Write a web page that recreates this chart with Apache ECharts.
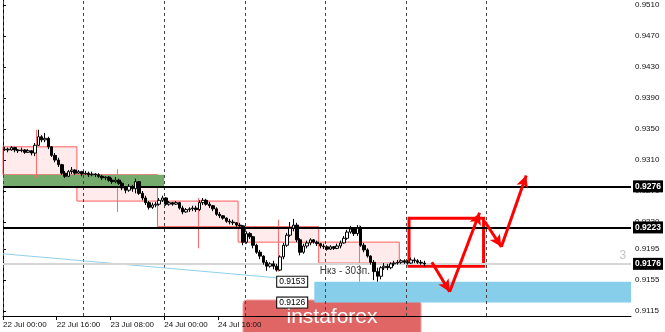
<!DOCTYPE html>
<html><head><meta charset="utf-8">
<script src="https://cdn.jsdelivr.net/npm/echarts@6/dist/echarts.min.js"></script>
<style>html,body{margin:0;padding:0;background:#fff}#c{width:665px;height:332px}</style>
</head><body><div id="c"></div>
<script>
// hourly candles starting 22 Jul 00:00 : [open, close, low, high]
const candles = [
[0.9323,0.9324,0.9322,0.9327],[0.9324,0.9323,0.9320,0.9326],[0.9323,0.9326,0.9322,0.9328],[0.9326,0.9323,0.9320,0.9327],
[0.9323,0.9322,0.9319,0.9324],[0.9322,0.9323,0.9320,0.9326],[0.9323,0.9320,0.9318,0.9324],[0.9320,0.9322,0.9319,0.9324],
[0.9322,0.9319,0.9316,0.9323],[0.9319,0.9329,0.9315,0.9332],[0.9329,0.9340,0.9328,0.9349],[0.9340,0.9336,0.9333,0.9342],
[0.9336,0.9338,0.9333,0.9345],[0.9338,0.9327,0.9324,0.9340],[0.9327,0.9316,0.9314,0.9328],[0.9316,0.9310,0.9307,0.9319],
[0.9310,0.9304,0.9301,0.9313],[0.9304,0.9293,0.9291,0.9305],[0.9293,0.9289,0.9287,0.9296],[0.9289,0.9295,0.9288,0.9297],
[0.9295,0.9297,0.9292,0.9301],[0.9297,0.9293,0.9291,0.9298],[0.9293,0.9295,0.9292,0.9297],[0.9295,0.9292,0.9289,0.9296],
[0.9292,0.9293,0.9291,0.9296],[0.9293,0.9291,0.9288,0.9295],[0.9291,0.9292,0.9289,0.9295],[0.9292,0.9291,0.9288,0.9293],
[0.9291,0.9289,0.9287,0.9293],[0.9289,0.9287,0.9284,0.9291],[0.9287,0.9288,0.9284,0.9289],[0.9288,0.9284,0.9282,0.9289],
[0.9284,0.9282,0.9279,0.9287],[0.9282,0.9284,0.9280,0.9288],[0.9284,0.9280,0.9278,0.9286],[0.9280,0.9274,0.9271,0.9282],
[0.9274,0.9271,0.9267,0.9276],[0.9271,0.9276,0.9269,0.9279],[0.9276,0.9273,0.9269,0.9278],[0.9273,0.9282,0.9267,0.9286],
[0.9282,0.9267,0.9265,0.9283],[0.9267,0.9261,0.9258,0.9270],[0.9261,0.9255,0.9252,0.9264],[0.9255,0.9249,0.9246,0.9257],
[0.9249,0.9252,0.9247,0.9255],[0.9252,0.9253,0.9249,0.9256],[0.9253,0.9258,0.9251,0.9261],[0.9258,0.9261,0.9256,0.9264],
[0.9261,0.9253,0.9251,0.9262],[0.9253,0.9255,0.9251,0.9257],[0.9255,0.9253,0.9251,0.9256],[0.9253,0.9255,0.9252,0.9257],
[0.9255,0.9248,0.9246,0.9256],[0.9248,0.9243,0.9240,0.9251],[0.9243,0.9246,0.9242,0.9248],[0.9246,0.9247,0.9243,0.9249],
[0.9247,0.9248,0.9244,0.9251],[0.9248,0.9246,0.9243,0.9251],[0.9246,0.9255,0.9244,0.9258],[0.9255,0.9258,0.9252,0.9261],
[0.9258,0.9253,0.9251,0.9260],[0.9253,0.9251,0.9248,0.9256],[0.9251,0.9247,0.9244,0.9252],[0.9247,0.9240,0.9238,0.9249],
[0.9240,0.9238,0.9235,0.9243],[0.9238,0.9235,0.9233,0.9239],[0.9235,0.9231,0.9229,0.9236],[0.9231,0.9230,0.9227,0.9234],
[0.9230,0.9229,0.9226,0.9233],[0.9229,0.9226,0.9224,0.9230],[0.9226,0.9225,0.9222,0.9229],[0.9225,0.9204,0.9200,0.9226],
[0.9204,0.9215,0.9202,0.9218],[0.9215,0.9211,0.9208,0.9217],[0.9211,0.9200,0.9196,0.9212],[0.9200,0.9191,0.9189,0.9202],
[0.9191,0.9186,0.9182,0.9194],[0.9186,0.9178,0.9175,0.9187],[0.9178,0.9173,0.9167,0.9181],[0.9173,0.9176,0.9171,0.9178],
[0.9176,0.9173,0.9169,0.9180],[0.9173,0.9168,0.9166,0.9176],[0.9168,0.9185,0.9167,0.9187],[0.9185,0.9200,0.9182,0.9203],
[0.9200,0.9213,0.9198,0.9216],[0.9213,0.9222,0.9211,0.9230],[0.9222,0.9226,0.9218,0.9234],[0.9226,0.9207,0.9204,0.9229],
[0.9207,0.9191,0.9187,0.9209],[0.9191,0.9199,0.9189,0.9202],[0.9199,0.9203,0.9196,0.9206],[0.9203,0.9207,0.9200,0.9209],
[0.9207,0.9204,0.9202,0.9208],[0.9204,0.9202,0.9199,0.9206],[0.9202,0.9199,0.9196,0.9203],[0.9199,0.9198,0.9195,0.9202],
[0.9198,0.9195,0.9193,0.9200],[0.9195,0.9198,0.9194,0.9200],[0.9198,0.9196,0.9194,0.9199],[0.9196,0.9199,0.9195,0.9202],
[0.9199,0.9203,0.9196,0.9206],[0.9203,0.9209,0.9202,0.9212],[0.9209,0.9217,0.9207,0.9220],[0.9217,0.9221,0.9215,0.9225],
[0.9221,0.9215,0.9212,0.9222],[0.9215,0.9222,0.9212,0.9226],[0.9222,0.9200,0.9198,0.9225],[0.9200,0.9194,0.9191,0.9203],
[0.9194,0.9186,0.9184,0.9196],[0.9186,0.9178,0.9175,0.9187],[0.9178,0.9166,0.9155,0.9181],[0.9166,0.9160,0.9153,0.9171],
[0.9160,0.9171,0.9156,0.9173],[0.9171,0.9173,0.9168,0.9177],[0.9173,0.9171,0.9168,0.9176],[0.9171,0.9176,0.9169,0.9178],
[0.9176,0.9177,0.9173,0.9180],[0.9177,0.9178,0.9175,0.9181],[0.9178,0.9180,0.9176,0.9182],[0.9180,0.9178,0.9176,0.9182],
[0.9178,0.9177,0.9175,0.9181],[0.9177,0.9181,0.9176,0.9184],[0.9181,0.9180,0.9177,0.9184],[0.9180,0.9178,0.9176,0.9182],
[0.9178,0.9177,0.9175,0.9181],[0.9177,0.9176,0.9173,0.9180]
];
const timeLabels = ['22 Jul 00:00','22 Jul 16:00','23 Jul 08:00','24 Jul 00:00','24 Jul 16:00'];
const timeLabelHours = [0,16,32,48,64];
const daySeparatorHours = [0,24,48,72,96,120,144];
const priceTicks = [0.9115,0.9155,0.9195,0.9230,0.9270,0.9310,0.9350,0.9390,0.9430,0.9470,0.9510];
// daily boxes: [startHour, endHour, open, close]
const dayBoxes = [[0,22,0.9327,0.9291],[22,46,0.9291,0.9257],[46,70,0.9257,0.9224],[70,94,0.9224,0.9204],[94,118,0.9204,0.9177]];
// daily wicks: [hour, high, low]
const dayWicks = [[10,0.9349,0.9287],[34,0.9298,0.9243],[58,0.9261,0.9196],[82,0.9233,0.9166],[106,0.9226,0.9153]];
const levels = [0.9276, 0.9223];
const currentPrice = 0.9176;
const greenZone = [0, 48, 0.9291, 0.9276];
const blueZone = [92.7, 187, 0.9153, 0.9126];
const blueZoneLabels = [0.9153, 0.9126];
const targetBox = [120.9, 143.1, 0.9235, 0.9173];
const arrowPath = [[[127.7,0.9178],[133.0,0.9140]],[[133.0,0.9140],[141.9,0.9242]],[[143.4,0.9231],[148.4,0.9198]],[[148.4,0.9198],[155.8,0.9290]]];
const trendLine = [[0,0.9189],[81.5,0.9158]];
const noteText = 'Нкз - 303п.';
const notePos = [94.2, 0.9166];

const FONT = '"Liberation Sans", Arial, sans-serif';
const chart = echarts.init(document.getElementById('c'), null, {renderer:'canvas'});
const empty = (z, extra) => Object.assign({type:'line', data:[], z:z, silent:true, symbol:'none'}, extra);
const blackBox = (txt) => ({show:true, position:'end', distance:2, formatter:txt, color:'#fff', backgroundColor:'#000',
  fontSize:8.5, fontWeight:'bold', fontFamily:FONT, padding:[2,2,1,2]});

chart.setOption({
  animation:false,
  grid:{left:0, right:34, top:0, bottom:16, containLabel:false},
  xAxis:{type:'value', min:0, max:187, position:'bottom',
    axisLine:{lineStyle:{color:'#000', width:1}},
    axisTick:{show:true, customValues:timeLabelHours, length:4, lineStyle:{color:'#000'}},
    axisLabel:{customValues:timeLabelHours, formatter:v=>timeLabels[timeLabelHours.indexOf(v)] || '', align:'left',
      fontSize:8, color:'#111', fontFamily:FONT, margin:5},
    splitLine:{show:false}},
  yAxis:{type:'value', position:'right', min:0.91087, max:0.95165, scale:true,
    axisLine:{show:true, lineStyle:{color:'#000', width:1}},
    axisTick:{show:true, customValues:priceTicks, length:3, lineStyle:{color:'#000'}},
    axisLabel:{customValues:priceTicks, formatter:v=>v.toFixed(4), fontSize:8, color:'#111', fontFamily:FONT, margin:4},
    splitLine:{show:false}},
  graphic:[{type:'group', z:100, children:[
    {type:'rect', shape:{x:243, y:300, width:178, height:40, r:4}, style:{fill:'#e06666', stroke:'#f1a0a0', lineWidth:1}},
    {type:'text', x:332, y:317, style:{text:'instaforex', fill:'#fff', font:'21px ' + FONT, align:'center', verticalAlign:'middle'}}
  ]}],
  series:[
    empty(1, {markLine:{silent:true, precision:4, symbol:['none','none'], label:{show:false},
      lineStyle:{color:'#444', width:1, type:[3,3]},
      data:daySeparatorHours.map(h=>({xAxis:h}))}}),
    empty(2, {markArea:{silent:true,
      itemStyle:{color:'rgba(255,0,0,0.08)', borderColor:'#ff5c5c', borderWidth:1},
      data:dayBoxes.map(b=>[{coord:[b[0], b[2]]},{coord:[b[1], b[3]]}])},
      markLine:{silent:true, precision:4, symbol:['none','none'], label:{show:false}, lineStyle:{color:'#ff6b6b', width:1, type:'solid'},
      data:dayWicks.map(w=>[{coord:[w[0], w[1]]},{coord:[w[0], w[2]]}])}}),
    empty(3, {markArea:{silent:true, itemStyle:{color:'#76ab6e'},
      data:[[{coord:[greenZone[0], greenZone[2]]},{coord:[greenZone[1], greenZone[3]]}]]}}),
    empty(3, {markArea:{silent:true, itemStyle:{color:'#87ceeb'},
      data:[[{coord:[blueZone[0], blueZone[2]]},{coord:[blueZone[1], blueZone[3]]}]]},
      markLine:{silent:true, precision:4, symbol:['none','none'], label:{show:false}, lineStyle:{color:'#8fd0ea', width:1, type:'solid'},
      data:[[{coord:trendLine[0]},{coord:trendLine[1]}]]},
      markPoint:{silent:true, symbol:'circle', symbolSize:1, itemStyle:{color:'rgba(0,0,0,0)'},
      data:blueZoneLabels.map(v=>({coord:[81.5, v], label:{show:true, position:'right', distance:0, formatter:v.toFixed(4),
        color:'#000', backgroundColor:'#fff', borderColor:'#000', borderWidth:1, padding:[1,2,0,2], fontSize:8.5, fontFamily:FONT}}))
        .concat([{coord:notePos, label:{show:true, position:'right', distance:0, formatter:noteText, color:'#3a3a3a', fontSize:10, fontFamily:FONT}},
                 {coord:[184.6, 0.9187], label:{show:true, position:'inside', formatter:'3', color:'#c4c4c4', fontSize:12, fontFamily:FONT}}])}}),
    {type:'candlestick', z:5, silent:true,
      data:candles.map((c,i)=>[i+0.5, c[0], c[1], c[2], c[3]]),
      encode:{x:0, y:[1,2,3,4]}, barWidth:3,
      itemStyle:{color:'#fff', color0:'#000', borderColor:'#000', borderColor0:'#000', borderWidth:1}},
    empty(6, {markLine:{silent:true, precision:4, symbol:['none','none'],
      data:[
        {yAxis:currentPrice, lineStyle:{color:'#d6d6d6', width:2, type:'solid'}, label:blackBox('0.9176')},
        {yAxis:levels[0], lineStyle:{color:'#000', width:2, type:'solid'}, label:blackBox('0.9276')},
        {yAxis:levels[1], lineStyle:{color:'#000', width:2, type:'solid'}, label:blackBox('0.9223')}
      ]}}),
    empty(7, {markArea:{silent:true, itemStyle:{color:'rgba(0,0,0,0)', borderColor:'#ff0000', borderWidth:3},
      data:[[{coord:[targetBox[0], targetBox[2]]},{coord:[targetBox[1], targetBox[3]]}]]}}),
    empty(8, {markLine:{silent:true, precision:4, symbol:['none','arrow'], symbolSize:[9,12], label:{show:false},
      lineStyle:{color:'#ff0000', width:3, type:'solid'},
      data:arrowPath.map(a=>[{coord:a[0]},{coord:a[1]}])}})
  ]
});
</script></body></html>
